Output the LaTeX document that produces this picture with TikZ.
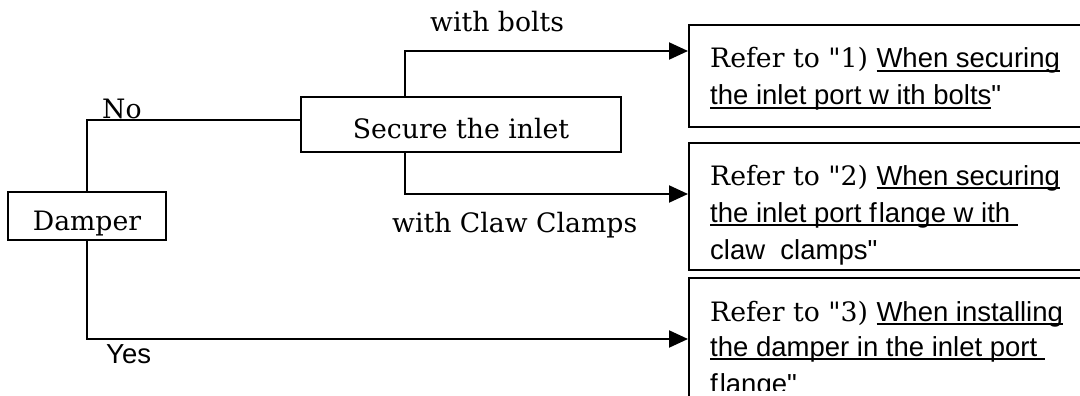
\documentclass[tikz,border=0pt]{standalone}
\usepackage{fontspec}
\newfontfamily\sr{DejaVu Serif}
\newfontfamily\sansf{Liberation Sans}
\usetikzlibrary{arrows.meta}
\newcommand\ulw[1]{\setbox0\hbox{#1}\rlap{\rule[-4pt]{\wd0}{2pt}}\box0}
\newcommand\sz{\sr\fontsize{26.7}{32}\selectfont}
\newcommand\ssz{\fontsize{27.5}{32}\selectfont}
\newcommand\sa{\sansf\ssz}
\begin{document}
\begin{tikzpicture}[x=1pt,y=-1pt,
  box/.style={draw,line width=2pt,inner sep=0pt},
  conn/.style={line width=2.1pt},
  arr/.style={conn,-{Triangle[length=19pt,width=17pt]}},
  lbl/.style={anchor=base west,inner sep=0pt,font=\sz},
  slbl/.style={anchor=base west,inner sep=0pt,font=\sa}]
\useasboundingbox (0,0) rectangle (1080,396);
\fill[white] (0,0) rectangle (1080,396);
\begin{scope}
\clip (0,0) rectangle (1080,396);
\node[box,minimum width=158pt,minimum height=48pt,text height=28pt,text depth=0pt,font=\sz] (damper) at (87,216) {Damper};
\node[box,minimum width=320pt,minimum height=55pt,text height=29pt,text depth=0pt,font=\sz] (secure) at (461,124.5) {Secure the inlet};
\node[box,anchor=north west,minimum width=402pt,minimum height=102pt] (box1) at (688,24) {};
\node[box,anchor=north west,minimum width=402pt,minimum height=127pt] (box2) at (688,142) {};
\node[box,anchor=north west,minimum width=402pt,minimum height=122pt] (box3) at (688,277) {};

\node[lbl] (b1l1) at (710,68) {Refer to "1) {\sa\ulw{When securing}}};
\node[slbl] (b1l2) at (710,105) {\ulw{the inlet port w ith bolts}"};
\node[lbl] (b2l1) at (710,185) {Refer to "2) {\sa\ulw{When securing}}};
\node[slbl] (b2l2) at (710,222) {\ulw{the inlet port f\kern2pt lange w ith\ }};
\node[slbl] (b2l3) at (710,259) {claw\ \ clamps"};
\node[lbl] (b3l1) at (710,321) {Refer to "3) {\sa\ulw{When installing}}};
\node[slbl] (b3l2) at (710,356) {\ulw{the damper in the inlet port\ }};
\begin{scope}
\clip (690,280) rectangle (1080,390);
\node[slbl] (b3l3) at (710,393) {f\kern2pt lange"};
\end{scope}

\draw[conn] (damper.north) |- ([yshift=4.5pt]secure.west);
\draw[arr] ([xshift=-56pt]secure.north) |- ([yshift=25pt]box1.west);
\draw[arr] ([xshift=-56pt]secure.south) |- ([yshift=12.5pt]box2.west);
\draw[arr] (damper.south) |- (box3.west);

\node[lbl] (no) at (102,118) {No};
\node[lbl] (bolts) at (430,32) {with bolts};
\node[lbl] (claw) at (392,232) {with Claw Clamps};
\node[slbl] (yes) at (106,363) {Yes};
\end{scope}
\end{tikzpicture}
\end{document}
